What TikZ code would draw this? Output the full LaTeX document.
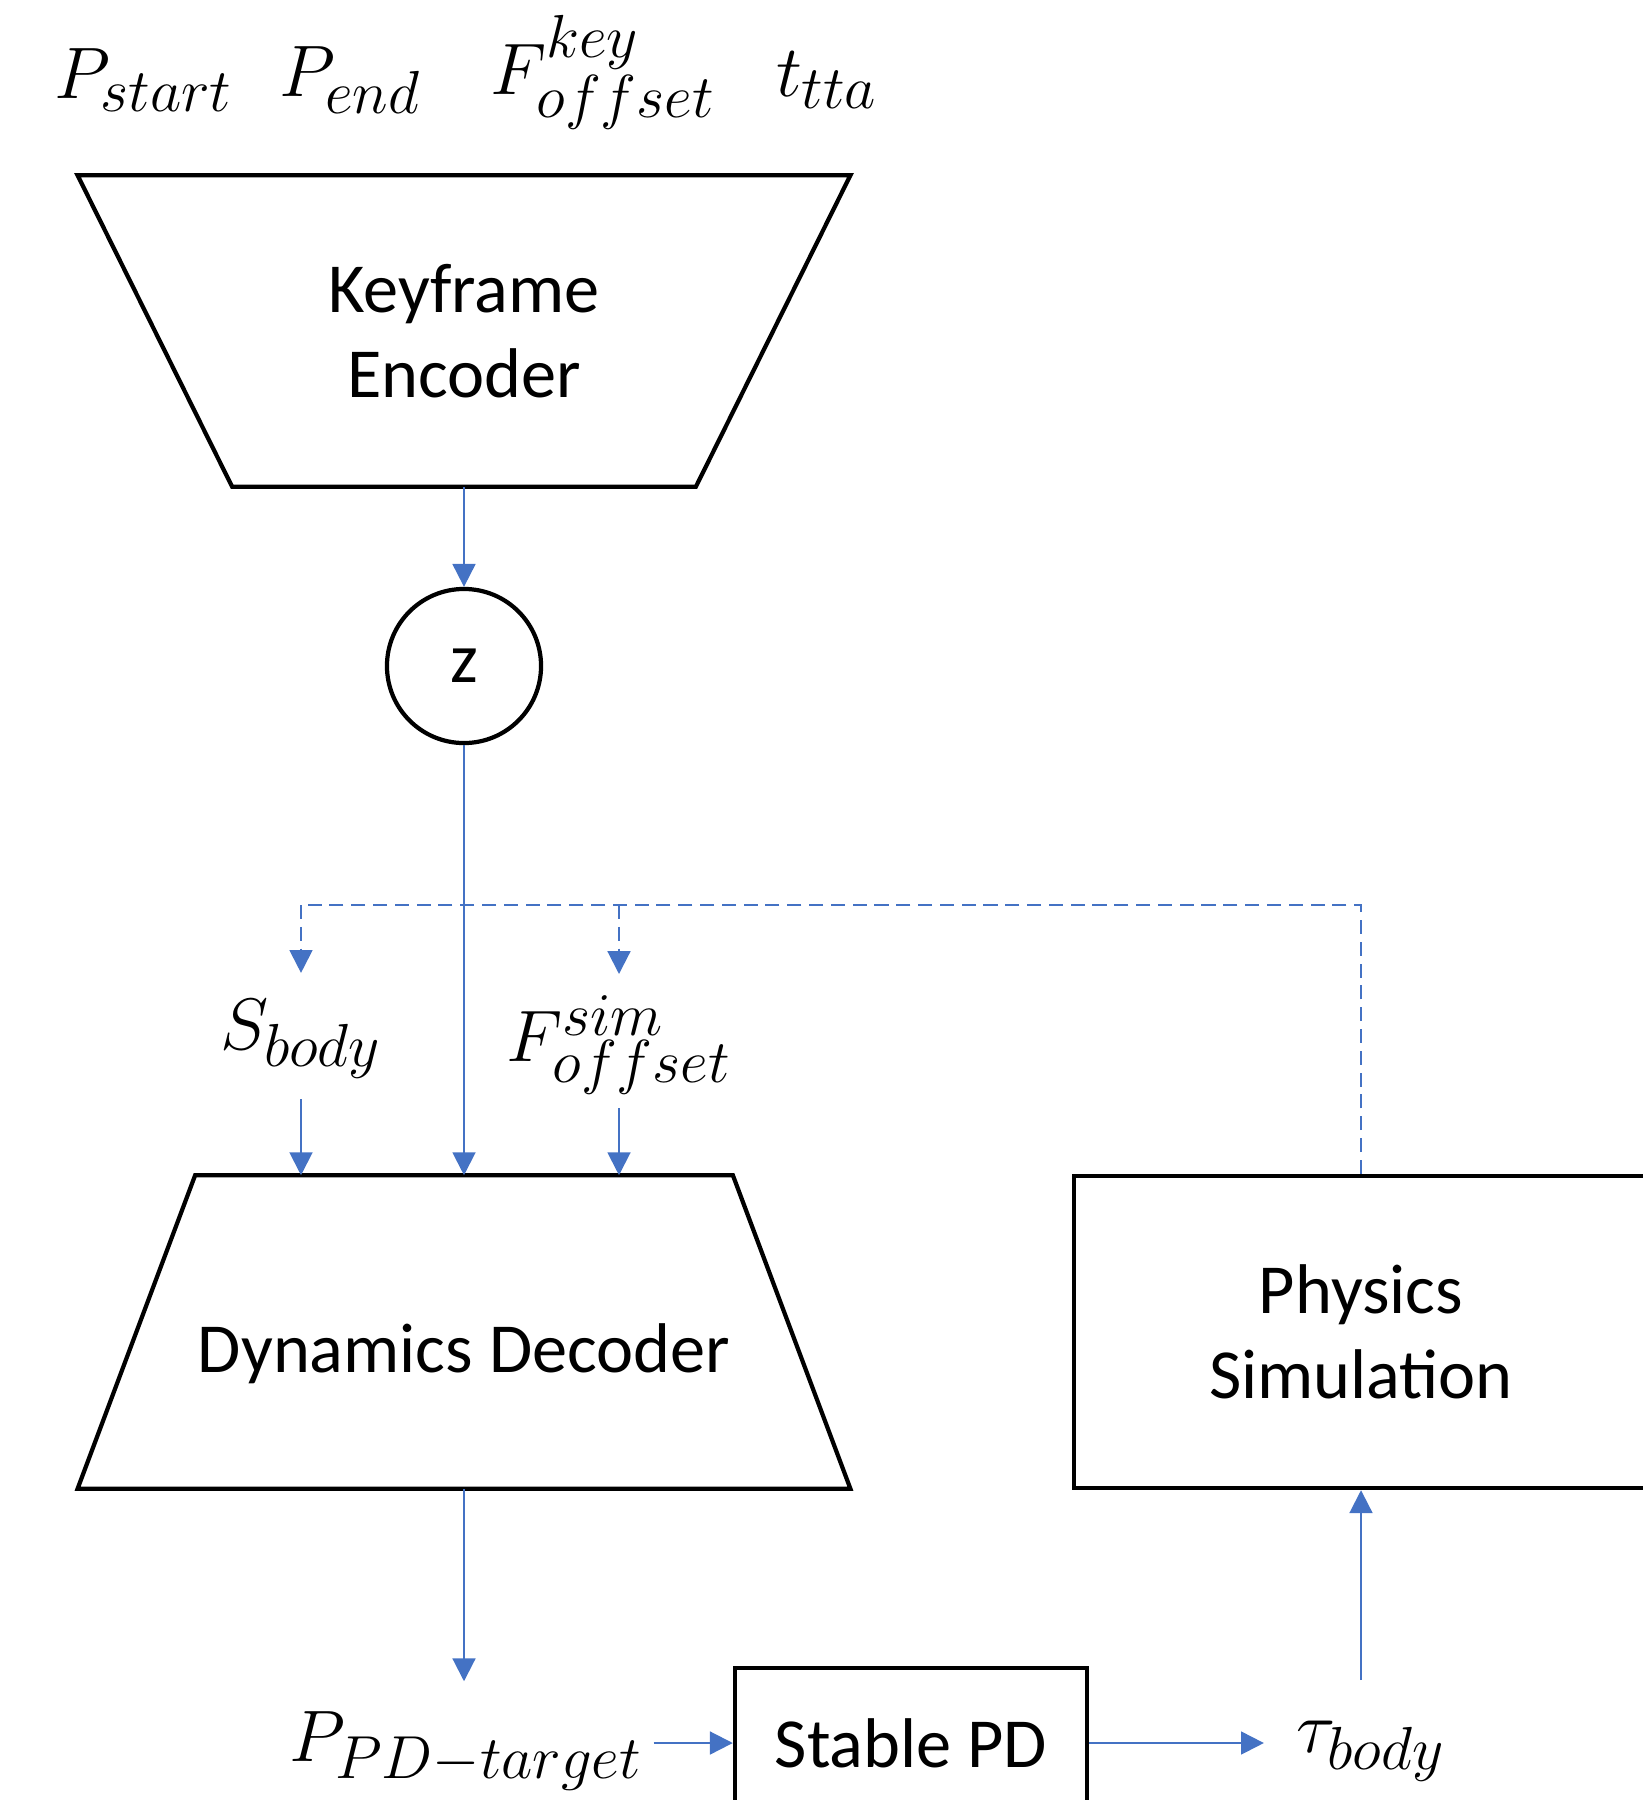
\documentclass[tikz,border=0pt]{standalone}
\usepackage{fontspec}
\setmainfont{Carlito}
\usetikzlibrary{shapes.geometric,arrows.meta,positioning}

\definecolor{linkblue}{RGB}{68,114,196}
\DeclareMathSizes{22}{22}{17}{13}

\tikzset{
  block/.style={draw=black,line width=1.2pt,align=center,font=\fontsize{20}{24}\selectfont},
  netbox/.style={rectangle,align=center,font=\fontsize{20}{24}\selectfont,minimum width=7.71cm},
  outline/.style={draw=black,line width=1.2pt,line join=miter},
  sym/.style={inner sep=0pt,font=\fontsize{22}{26}\selectfont},
  link/.style={draw=linkblue,line width=0.6pt,-{Triangle[width=6.5pt,length=6.5pt]}},
  dashlink/.style={link,dash pattern=on 4pt off 2.2pt},
  dashline/.style={draw=linkblue,line width=0.6pt,dash pattern=on 4pt off 2.2pt}
}

\begin{document}
\begin{tikzpicture}[x=0.01cm,y=-0.01cm]
\useasboundingbox (0,0) rectangle (1642,1800);

% inputs of the encoder
\node[sym] (pstart) at (144,80) {$P_{start}$};
\node[sym] (pend) at (350,80) {$P_{end}$};
\node[sym] (fkey) at (603,72) {$F^{key}_{offset}$};
\node[sym] (ttta) at (827,80) {$t_{tta}$};

% networks
\node[netbox,minimum height=3.10cm] (enc) at (464,331) {Keyframe\\Encoder};
\draw[outline] (enc.north west) -- (enc.north east) -- ([xshift=-1.545cm]enc.south east)
  -- ([xshift=1.545cm]enc.south west) -- cycle;
\node[block,circle,minimum size=1.54cm,inner sep=0pt] (z) at (464,666) {z};
\node[netbox,minimum height=3.12cm,text height=1.0cm,text depth=0.2cm] (dec) at (464,1332) {Dynamics Decoder};
\draw[outline] ([xshift=1.175cm]dec.north west) -- ([xshift=-1.175cm]dec.north east)
  -- (dec.south east) -- (dec.south west) -- cycle;
\node[block,rectangle,minimum width=5.74cm,minimum height=3.12cm] (phys) at (1361,1332) {Physics\\Simulation};
\node[block,rectangle,minimum width=3.52cm,minimum height=1.50cm] (pd) at (911,1743) {Stable PD};

% states
\node[sym] (sbody) at (301,1039) {$S_{body}$};
\node[sym] (fsim) at (619,1045) {$F^{sim}_{offset}$};
\node[sym] (ptarget) at (466,1751) {$P_{PD-target}$};
\node[sym] (tau) at (1371,1751) {$\tau_{body}$};

\coordinate (fbk) at (464,905);

% connections
\draw[link] (enc.south) -- (z.north);
\draw[link] (z.south) -- (z.south |- dec.north);
\draw[dashline] (phys.north) |- (sbody.north |- fbk);
\draw[dashlink,shorten >=0.26cm] (sbody.north |- fbk) -- (sbody.north);
\draw[dashlink] (fsim.north |- fbk) -- ++(0,69);
\draw[link,shorten <=0.2cm] (sbody.south) -- (sbody.south |- dec.north);
\draw[link] (fsim.north |- 0,1108) -- (fsim.north |- dec.north);
\draw[link,shorten >=0.3cm] (dec.south) -- (dec.south |- ptarget.north);
\draw[link,shorten <=0.1cm] (ptarget.east |- pd.west) -- (pd.west);
\draw[link,shorten >=0.32cm] (pd.east) -- (pd.east -| tau.west);
\draw[link,shorten <=0.4cm] (phys.south |- tau.north) -- (phys.south);
\end{tikzpicture}
\end{document}
